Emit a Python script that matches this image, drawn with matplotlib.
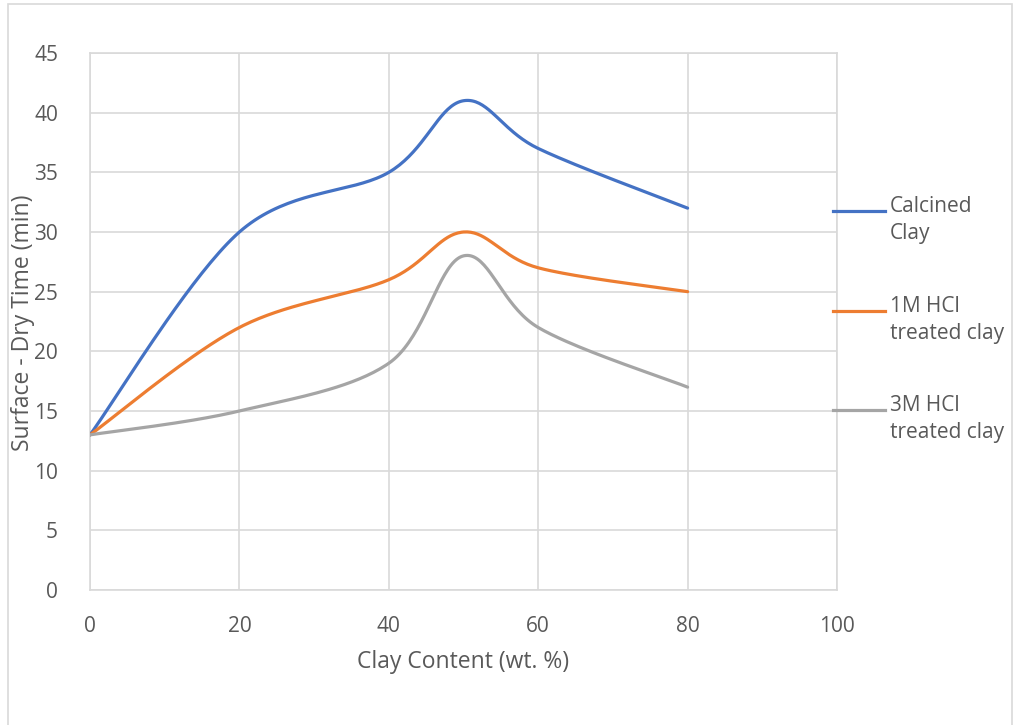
import numpy as np
import matplotlib.pyplot as plt
from matplotlib.lines import Line2D
from matplotlib.patches import Rectangle

clay = [0, 20, 40, 50, 60, 80]
calcined = [13, 30, 35, 41, 37, 32]
hcl_1m = [13, 22, 26, 30, 27, 25]
hcl_3m = [13, 15, 19, 28, 22, 17]

labels = ['Calcined\nClay', '1M HCl\ntreated clay', '3M HCl\ntreated clay']
colors = ['#4472C4', '#ED7D31', '#A5A5A5']


def smooth(x, y, n=40):
    # cubic bezier through the points, spreadsheet-style smoothing
    p = np.column_stack([x, y]).astype(float)
    out = [p[0]]
    t = np.linspace(0, 1, n)[1:, None]
    for i in range(len(p) - 1):
        p0 = p[max(i - 1, 0)]
        p1, p2 = p[i], p[i + 1]
        p3 = p[min(i + 2, len(p) - 1)]
        c1 = p1 + (p2 - p0) / 6
        c2 = p2 - (p3 - p1) / 6
        seg = ((1 - t) ** 3) * p1 + 3 * ((1 - t) ** 2) * t * c1 + 3 * (1 - t) * t ** 2 * c2 + t ** 3 * p2
        out.extend(seg)
    out = np.array(out)
    return out[:, 0], out[:, 1]


plt.rcParams['font.family'] = ['Open Sans', 'DejaVu Sans']
txt = '#595959'
grid = '#D9D9D9'
fs_tick = 15
fs_title = 16.5

fig = plt.figure(figsize=(10.13, 7.25), dpi=100)
fig.patches.append(Rectangle((8 / 1013, -0.01), 1003.5 / 1013, 1 - 3.5 / 725 + 0.01,
                             transform=fig.transFigure, fill=False,
                             edgecolor='#D9D9D9', lw=1.2))

ax = fig.add_axes([90 / 1013, 1 - 590 / 725, 747 / 1013, 537 / 725])

for ys, c in zip([calcined, hcl_1m, hcl_3m], colors):
    sx, sy = smooth(clay, ys)
    ax.plot(sx, sy, color=c, lw=2.3, solid_capstyle='round', zorder=3)

ax.set_xlim(0, 100)
ax.set_ylim(0, 45)
ax.set_xticks(range(0, 101, 20))
ax.set_yticks(range(0, 46, 5))
ax.grid(True, color=grid, lw=1.2)
ax.set_axisbelow(True)
for s in ax.spines.values():
    s.set_color(grid)
    s.set_linewidth(1.2)
ax.tick_params(length=0, labelsize=fs_tick, colors=txt, pad=19)
ax.tick_params(axis='y', pad=23)
ax.set_xlabel('Clay Content (wt. %)', fontsize=fs_title, color=txt, va='center')
ax.xaxis.set_label_coords(463 / 1013, 1 - 662 / 725, transform=fig.transFigure)
ax.set_ylabel('Surface - Dry Time (min)', fontsize=fs_title, color=txt, va='center')
ax.yaxis.set_label_coords(23 / 1013, 1 - 323 / 725, transform=fig.transFigure)

# legend on the right
legend_y = [211, 311, 410]
for lab, c, y in zip(labels, colors, legend_y):
    fy = 1 - y / 725
    fig.add_artist(Line2D([833 / 1013, 885 / 1013], [fy, fy], color=c, lw=2.3,
                          transform=fig.transFigure))
    fig.text(890 / 1013, 1 - (y - 15) / 725, lab, fontsize=fs_tick, color=txt,
             va='top', ha='left', linespacing=1.35)

fig.savefig('out.png', dpi=100)
